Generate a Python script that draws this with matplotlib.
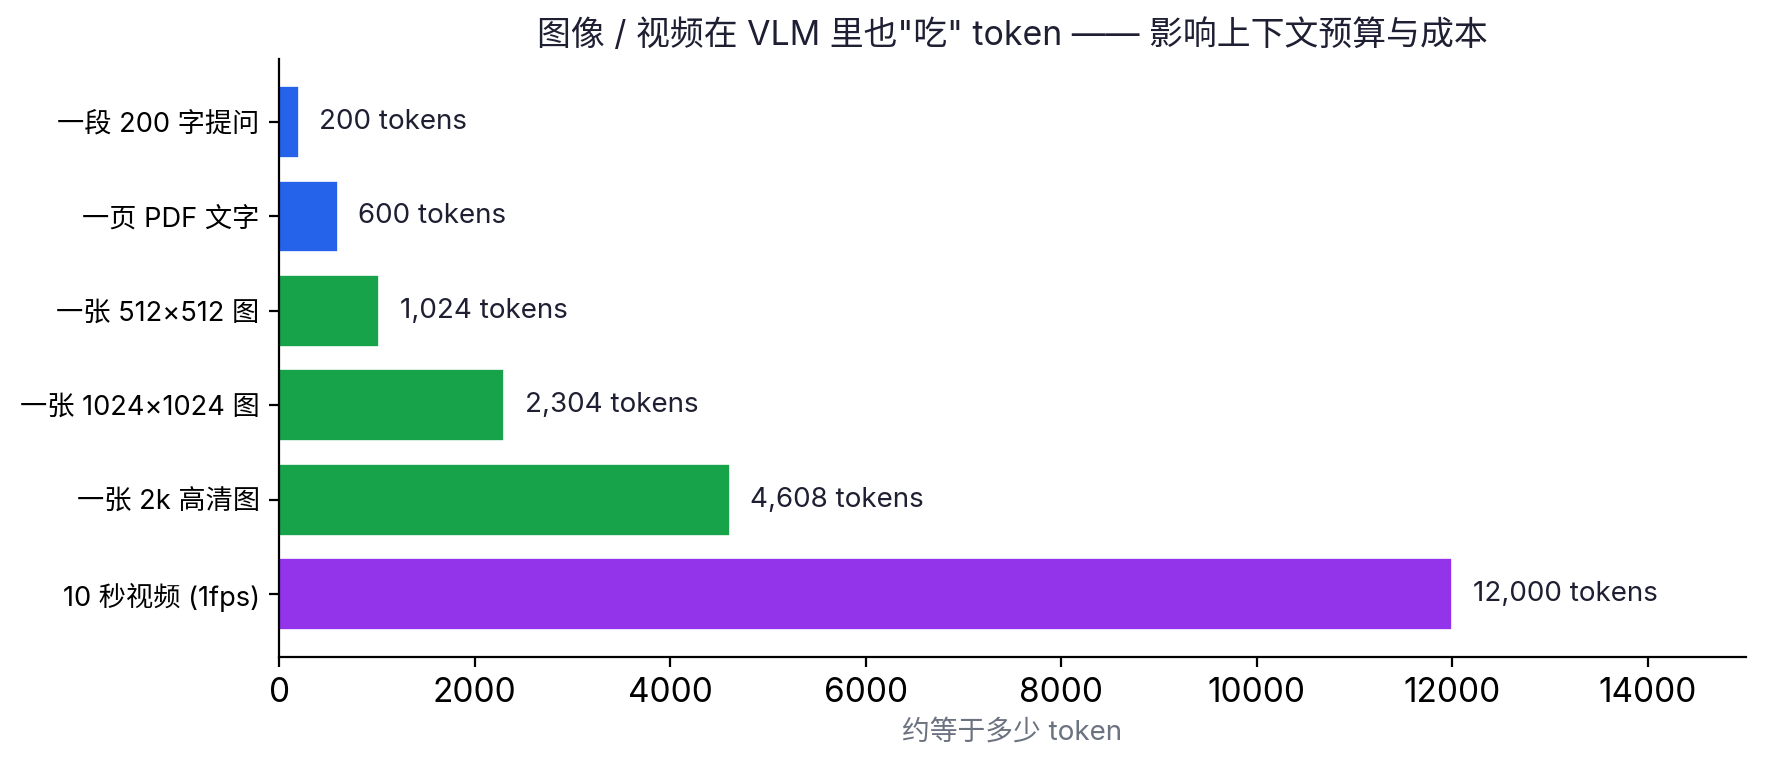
import matplotlib
matplotlib.use('Agg')
import matplotlib.pyplot as plt

plt.rcParams['font.family'] = ['Inter', 'Noto Sans CJK SC', 'DejaVu Sans']

labels = ['一段 200 字提问', '一页 PDF 文字', '一张 512×512 图', '一张 1024×1024 图',
          '一张 2k 高清图', '10 秒视频 (1fps)']
tokens = [200, 600, 1024, 2304, 4608, 12000]
colors = ['#2563eb', '#2563eb', '#16a34a', '#16a34a', '#16a34a', '#9333ea']

TEXT = '#1f1f33'

fig, ax = plt.subplots(figsize=(8.835, 3.825), dpi=200)
fig.subplots_adjust(left=0.158, right=0.988, top=0.923, bottom=0.141)

y = list(range(len(labels)))
ax.barh(y, tokens, color=colors, height=0.76, edgecolor='white', linewidth=0.6)
ax.invert_yaxis()
ax.set_yticks(y)
ax.set_yticklabels(labels, fontsize=9.8, color='black')
ax.set_xlim(0, 15000)

for yi, v in zip(y, tokens):
    ax.text(v + 210, yi, f'{v:,} tokens', va='center', ha='left', fontsize=10, color=TEXT)

ax.tick_params(axis='x', labelsize=12)
ax.set_xlabel('约等于多少 token', fontsize=10, color='#6b7280')
ax.set_title('图像 / 视频在 VLM 里也"吃" token —— 影响上下文预算与成本', fontsize=12.2, color=TEXT, pad=5)

ax.spines['top'].set_visible(False)
ax.spines['right'].set_visible(False)

fig.savefig('out.png', dpi=200)
